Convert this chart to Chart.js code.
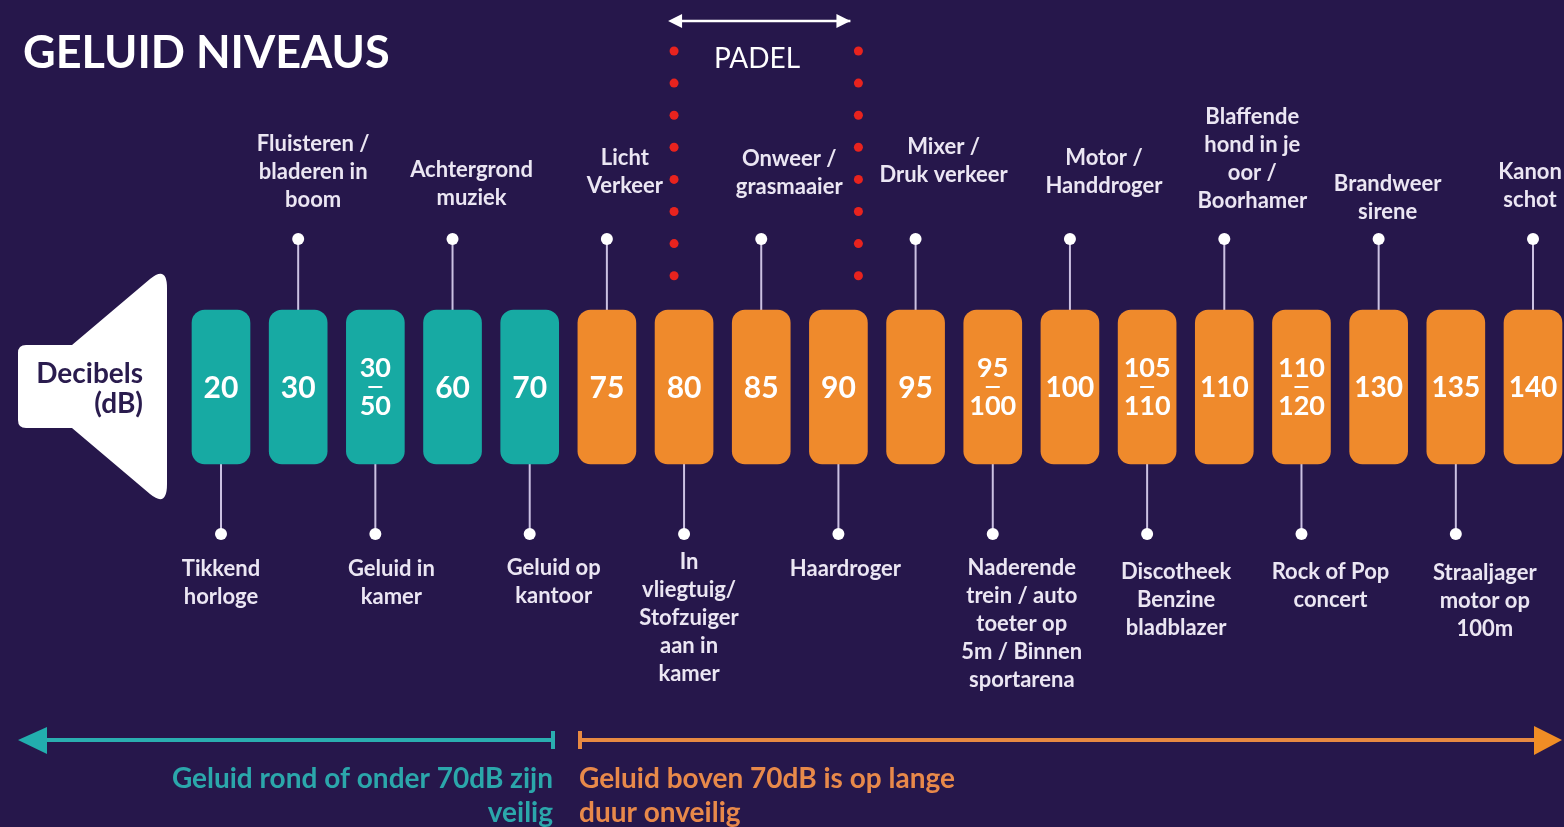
<!DOCTYPE html>
<html>
<head>
<meta charset="utf-8">
<title>Geluid niveaus</title>
<script src="https://cdn.jsdelivr.net/npm/chart.js@4.4.1/dist/chart.umd.min.js"></script>
<style>
  html, body { margin: 0; padding: 0; background: #26174b; overflow: hidden; }
  #wrap { width: 1564px; height: 827px; position: relative; }
</style>
</head>
<body>
<div id="wrap"><canvas id="niveaus"></canvas></div>
<script>
// decibel levels per bar (lower value, and upper value for ranges)
const dbFrom = [20, 30, 30, 60, 70, 75, 80, 85, 90, 95, 95, 100, 105, 110, 110, 130, 135, 140];
const dbTo = [null, null, 50, null, null, null, null, null, null, null, 100, null, 110, null, 120, null, null, null];
const safeLimit = 70;

// sound sources, "|" splits lines
const sourceAbove = [null, "Fluisteren /|bladeren in|boom", null, "Achtergrond|muziek", null, "Licht|Verkeer",
  null, "Onweer /|grasmaaier", null, "Mixer /|Druk verkeer", null, "Motor /|Handdroger", null,
  "Blaffende|hond in je|oor /|Boorhamer", null, "Brandweer|sirene", null, "Kanon|schot"];
const sourceBelow = ["Tikkend|horloge", null, "Geluid in|kamer", null, "Geluid op|kantoor", null,
  "In|vliegtuig/|Stofzuiger|aan in|kamer", null, "Haardroger", null,
  "Naderende|trein / auto|toeter op|5m / Binnen|sportarena", null, "Discotheek|Benzine|bladblazer", null,
  "Rock of Pop|concert", null, "Straaljager|motor op|100m", null];

// text nudges (layout only): [dx, y of anchor line]
const aboveNudge = { 1: [15, 200], 3: [19, 198], 5: [18, 186], 7: [28, 187], 9: [28, 175], 11: [34, 186], 13: [28, 201], 15: [9, 212], 17: [-3, 200] };
const belowNudge = { 0: [0, 569], 2: [16, 569], 4: [24, 568], 6: [5, 562], 8: [7, 569], 10: [29, 568], 12: [29, 572], 14: [29, 572], 16: [29, 573] };

const teal = "#17aaa3";
const orange = "#ef8a2c";
const bg = "#26174b";
const stem = "#cbc1e2";
const textCol = "#ebe6f3";

const labels = dbFrom.map((v, i) => dbTo[i] ? v + "-" + dbTo[i] : String(v));
const barColors = dbFrom.map(v => v <= safeLimit ? teal : orange);

function multiLine(ctx, text, x, y, lh) {
  text.split("|").forEach((t, k) => ctx.fillText(t, x, y + k * lh));
}

const niveauPlugin = {
  id: "niveaus",
  beforeDraw(chart) {
    const ctx = chart.ctx;
    const xs = chart.scales.x;
    ctx.save();
    ctx.fillStyle = bg;
    ctx.fillRect(0, 0, chart.width, chart.height);

    // title
    ctx.fillStyle = "#ffffff";
    ctx.font = "700 45px Lato";
    ctx.textBaseline = "middle";
    ctx.textAlign = "left";
    ctx.fillText("GELUID NIVEAUS", 23, 53);

    // speaker
    ctx.fillStyle = "#ffffff";
    ctx.beginPath();
    ctx.moveTo(26, 345);
    ctx.lineTo(72, 345);
    ctx.lineTo(150, 279);
    ctx.quadraticCurveTo(167, 265, 167, 288);
    ctx.lineTo(167, 484);
    ctx.quadraticCurveTo(167, 508, 150, 494);
    ctx.lineTo(72, 428);
    ctx.lineTo(26, 428);
    ctx.quadraticCurveTo(18, 428, 18, 420);
    ctx.lineTo(18, 353);
    ctx.quadraticCurveTo(18, 345, 26, 345);
    ctx.closePath();
    ctx.fill();
    ctx.fillStyle = "#2a1c4e";
    ctx.font = "700 28px Lato";
    ctx.textAlign = "right";
    ctx.fillText("Decibels", 143, 374);
    ctx.fillText("(dB)", 143, 404);

    // padel zone
    const pl = xs.getPixelForValue(6) - 10;
    const pr = xs.getPixelForValue(8) + 20;
    ctx.fillStyle = "#e8231e";
    for (let k = 0; k < 8; k++) {
      [pl, pr].forEach(px => {
        ctx.beginPath();
        ctx.arc(px, 51 + k * 32.1, 4.5, 0, Math.PI * 2);
        ctx.fill();
      });
    }
    ctx.strokeStyle = "#ffffff";
    ctx.fillStyle = "#ffffff";
    ctx.lineWidth = 2.5;
    ctx.beginPath();
    ctx.moveTo(pl + 2, 21);
    ctx.lineTo(pr - 8, 21);
    ctx.stroke();
    [[pl - 6, 1], [pr - 8, -1]].forEach(([tip, dir]) => {
      ctx.beginPath();
      ctx.moveTo(tip, 21);
      ctx.lineTo(tip + dir * 14, 14);
      ctx.lineTo(tip + dir * 14, 28);
      ctx.closePath();
      ctx.fill();
    });
    ctx.font = "400 28px Lato";
    ctx.textAlign = "center";
    ctx.fillText("PADEL", pl + 83, 59);

    // bottom arrows
    const ay = 740;
    ctx.lineWidth = 4;
    ctx.strokeStyle = "#2aaeb0";
    ctx.fillStyle = "#22aeae";
    ctx.beginPath();
    ctx.moveTo(40, ay); ctx.lineTo(553, ay);
    ctx.moveTo(553, ay - 9); ctx.lineTo(553, ay + 9);
    ctx.stroke();
    ctx.beginPath();
    ctx.moveTo(18, ay); ctx.lineTo(47, ay - 13); ctx.lineTo(47, ay + 14); ctx.closePath();
    ctx.fill();
    ctx.strokeStyle = "#e88a42";
    ctx.fillStyle = "#f08d25";
    ctx.beginPath();
    ctx.moveTo(580, ay); ctx.lineTo(1540, ay);
    ctx.moveTo(580, ay - 9); ctx.lineTo(580, ay + 9);
    ctx.stroke();
    ctx.beginPath();
    ctx.moveTo(1562, ay); ctx.lineTo(1534, ay - 14); ctx.lineTo(1534, ay + 15); ctx.closePath();
    ctx.fill();

    ctx.font = "700 28px Lato";
    ctx.fillStyle = "#2ba7ab";
    ctx.textAlign = "right";
    ctx.fillText("Geluid rond of onder 70dB zijn", 553, 779);
    ctx.fillText("veilig", 553, 813);
    ctx.fillStyle = "#e8894a";
    ctx.textAlign = "left";
    ctx.fillText("Geluid boven 70dB is op lange", 579, 779);
    ctx.fillText("duur onveilig", 579, 813);
    ctx.restore();
  },
  beforeDatasetsDraw(chart) {
    const ctx = chart.ctx;
    const area = chart.chartArea;
    const bars = chart.getDatasetMeta(0).data;
    ctx.save();
    ctx.strokeStyle = stem;
    ctx.fillStyle = "#ffffff";
    ctx.lineWidth = 2;
    bars.forEach((bar, i) => {
      const up = sourceAbove[i] !== null;
      const dotY = up ? 239 : 534;
      ctx.beginPath();
      ctx.moveTo(bar.x, dotY);
      ctx.lineTo(bar.x, up ? area.top : area.bottom);
      ctx.stroke();
      ctx.beginPath();
      ctx.arc(bar.x, dotY, 6, 0, Math.PI * 2);
      ctx.fill();
    });
    ctx.restore();
  },
  afterDatasetsDraw(chart) {
    const ctx = chart.ctx;
    const area = chart.chartArea;
    const bars = chart.getDatasetMeta(0).data;
    const midY = (area.top + area.bottom) / 2;
    ctx.save();
    ctx.textAlign = "center";
    ctx.textBaseline = "middle";
    bars.forEach((bar, i) => {
      ctx.fillStyle = "#ffffff";
      if (dbTo[i]) {
        ctx.font = "700 27px Lato";
        ctx.fillText(String(dbFrom[i]), bar.x, midY - 19);
        ctx.fillText(String(dbTo[i]), bar.x, midY + 19);
        ctx.fillRect(bar.x - 7, midY - 1, 14, 2);
      } else {
        ctx.font = (dbFrom[i] >= 100 ? "700 28px" : "700 30px") + " Lato";
        ctx.fillText(String(dbFrom[i]), bar.x, midY + 1);
      }
      ctx.fillStyle = textCol;
      ctx.font = "700 22px Lato";
      if (sourceAbove[i]) {
        const [dx, lastY] = aboveNudge[i];
        const n = sourceAbove[i].split("|").length;
        multiLine(ctx, sourceAbove[i], bar.x + dx, lastY - (n - 1) * 28, 28);
      }
      if (sourceBelow[i]) {
        const [dx, firstY] = belowNudge[i];
        multiLine(ctx, sourceBelow[i], bar.x + dx, firstY, 28);
      }
    });
    ctx.restore();
  }
};

const ctx = document.getElementById("niveaus").getContext("2d");
const niveaus = new Chart(ctx, {
  type: "bar",
  data: {
    labels: labels,
    datasets: [{
      data: dbFrom.map(() => 1),
      backgroundColor: barColors,
      borderWidth: 0,
      borderRadius: 13,
      borderSkipped: false,
      barThickness: 58,
      clip: false
    }]
  },
  options: {
    responsive: true,
    maintainAspectRatio: false,
    animation: false,
    layout: { padding: { left: 221, right: 31, top: 310, bottom: 363 } },
    scales: {
      x: { display: false, offset: false, grid: { display: false } },
      y: { display: false, min: 0, max: 1 }
    },
    plugins: {
      legend: { display: false },
      tooltip: { enabled: false }
    }
  },
  plugins: [niveauPlugin]
});
</script>
</body>
</html>
